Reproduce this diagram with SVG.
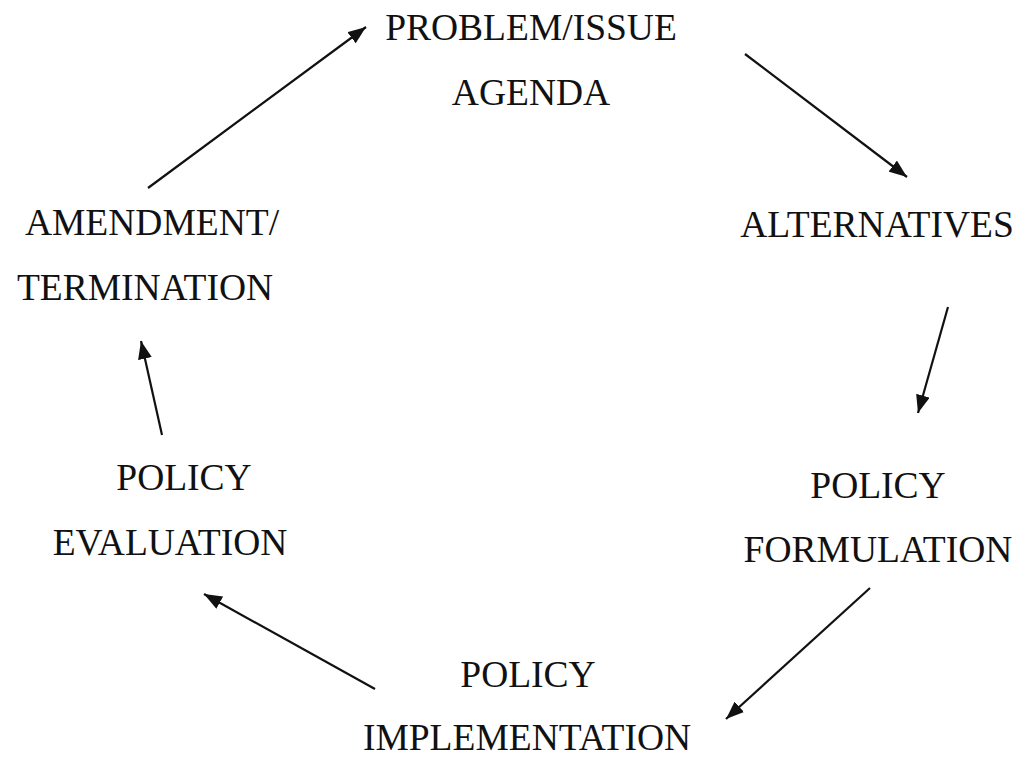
<svg xmlns="http://www.w3.org/2000/svg" width="1025" height="758" viewBox="0 0 1025 758">
<defs>
<marker id="ah" viewBox="0 0 18 14" refX="18" refY="7" markerWidth="18" markerHeight="14" markerUnits="userSpaceOnUse" orient="auto">
<path d="M0,0 L18,7 L0,14 z" fill="#111"/>
</marker>
<style>
text{font-family:"Liberation Serif","Times New Roman",serif;font-size:37.5px;fill:#111;text-anchor:middle}
.c line{stroke:#111;stroke-width:2.2;marker-end:url(#ah)}
</style>
</defs>
<rect width="1025" height="758" fill="#fff"/>
<g id="problem"><text x="531" y="40">PROBLEM/ISSUE</text><text x="531" y="105">AGENDA</text></g>
<g id="alternatives"><text x="877" y="237">ALTERNATIVES</text></g>
<g id="formulation"><text x="878" y="498">POLICY</text><text x="878" y="562">FORMULATION</text></g>
<g id="implementation"><text x="528" y="687">POLICY</text><text x="527" y="750">IMPLEMENTATION</text></g>
<g id="evaluation"><text x="184" y="490">POLICY</text><text x="170" y="555">EVALUATION</text></g>
<g id="amendment"><text x="152" y="235">AMENDMENT/</text><text x="145" y="300">TERMINATION</text></g>
<g class="c" id="connectors">
<line x1="148" y1="188" x2="366" y2="27"/>
<line x1="745" y1="54" x2="907" y2="177"/>
<line x1="948" y1="307" x2="918" y2="413"/>
<line x1="870" y1="588" x2="726" y2="719"/>
<line x1="375" y1="689" x2="204" y2="594"/>
<line x1="162" y1="435" x2="141" y2="341"/>
</g>
</svg>
